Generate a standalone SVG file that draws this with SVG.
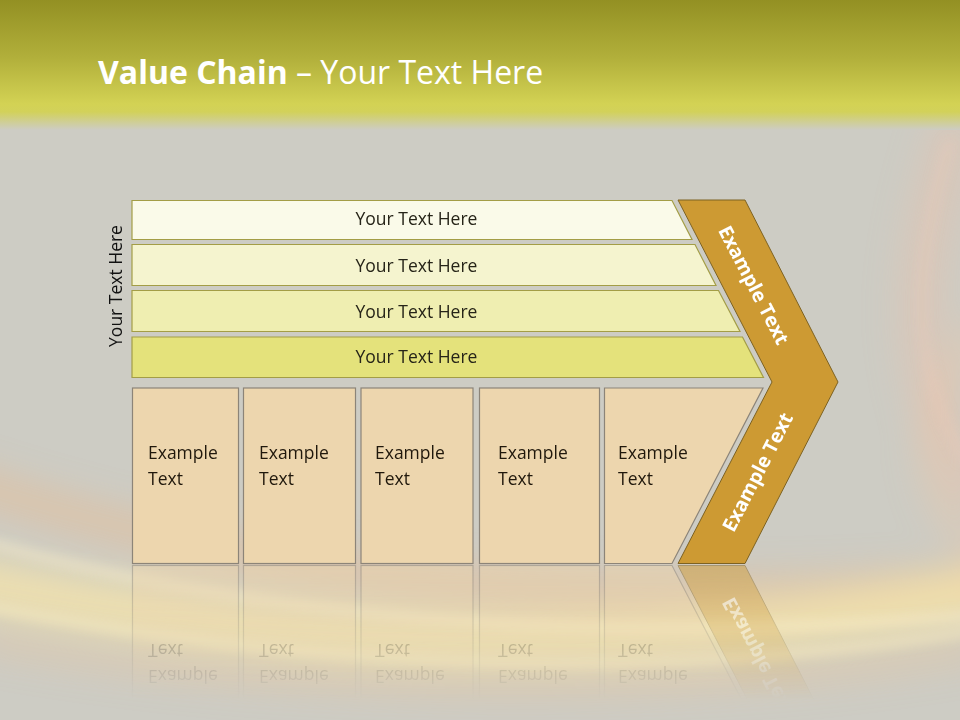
<svg xmlns="http://www.w3.org/2000/svg" xmlns:xlink="http://www.w3.org/1999/xlink" width="960" height="720" viewBox="0 0 960 720">
<defs>
<style>
.bar{stroke:#a39d46;stroke-width:1.2}
.box{fill:#edd6ae;stroke:#8c8478;stroke-width:1.2}
.chev{fill:#cd9a33;stroke:#7d6222;stroke-width:1}
.bt{font-family:"Open Sans","DejaVu Sans",sans-serif;font-size:17.5px;fill:#262418;text-anchor:middle}
.xt{font-family:"Open Sans","Liberation Sans",sans-serif;font-size:17.5px;fill:#20180c}
.ct{font-family:"Open Sans","Liberation Sans",sans-serif;font-size:19.5px;font-weight:bold;fill:#ffffff;text-anchor:middle}
</style>
<linearGradient id="top" x1="0" y1="0" x2="0" y2="1">
<stop offset="0" stop-color="#939023"/>
<stop offset="0.45" stop-color="#b2b03b"/>
<stop offset="0.8" stop-color="#d3d254"/>
<stop offset="0.86" stop-color="#d2d15a"/>
<stop offset="1" stop-color="#cdccc4"/>
</linearGradient>
<linearGradient id="fade" gradientUnits="userSpaceOnUse" x1="0" y1="564" x2="0" y2="700">
<stop offset="0" stop-color="#fff" stop-opacity="0.5"/>
<stop offset="1" stop-color="#fff" stop-opacity="0"/>
</linearGradient>
<mask id="refl" maskUnits="userSpaceOnUse" x="0" y="564" width="960" height="156">
<rect x="0" y="564" width="960" height="156" fill="url(#fade)"/>
</mask>
<filter id="blur" x="-20%" y="-20%" width="140%" height="140%"><feGaussianBlur stdDeviation="16"/></filter>
<filter id="blur2" x="-20%" y="-20%" width="140%" height="140%"><feGaussianBlur stdDeviation="6"/></filter>
</defs>

<g id="background">
<rect width="960" height="720" fill="#cdccc4"/>
<g filter="url(#blur)" fill="none">
<path d="M -40 480 C 200 560, 520 620, 1000 580" stroke="#f0b882" stroke-width="40" opacity="0.35"/>
<path d="M -40 580 C 250 640, 600 670, 1000 590" stroke="#f8e6a8" stroke-width="55" opacity="0.7"/>
<path d="M -20 640 C 300 700, 700 700, 980 650" stroke="#f3c590" stroke-width="22" opacity="0.35"/>
<path d="M 960 120 C 910 260, 900 380, 980 500" stroke="#eec0aa" stroke-width="50" opacity="0.35"/>
<path d="M 990 320 C 920 400, 900 480, 990 570" stroke="#f2c8a2" stroke-width="30" opacity="0.3"/>
</g>
<g filter="url(#blur2)" fill="none">
<path d="M -20 540 C 220 610, 560 650, 980 615" stroke="#fff4d0" stroke-width="8" opacity="0.5"/>
<path d="M -20 605 C 260 660, 620 690, 980 630" stroke="#fff3c4" stroke-width="7" opacity="0.55"/>
<path d="M 950 140 C 915 260, 905 360, 965 460" stroke="#f5cdb8" stroke-width="8" opacity="0.3"/>
</g>
<rect width="960" height="130" fill="url(#top)"/>
</g>

<g id="title">
<text x="98" y="84" font-family="'Open Sans','Liberation Sans',sans-serif" font-size="32" fill="#ffffff"><tspan font-weight="bold">Value Chain</tspan> – Your Text Here</text>
</g>

<g id="side-label">
<text class="bt" transform="translate(122,286) rotate(-90)" x="0" y="0" style="fill:#111">Your Text Here</text>
</g>

<g id="bar1">
<polygon class="bar" fill="#fafae9" points="132,200.5 672,200.5 692,239.5 132,239.5"/>
<text class="bt" x="416.5" y="225">Your Text Here</text>
</g>
<g id="bar2">
<polygon class="bar" fill="#f5f4cf" points="132,244.5 695,244.5 716,285.5 132,285.5"/>
<text class="bt" x="416.5" y="272">Your Text Here</text>
</g>
<g id="bar3">
<polygon class="bar" fill="#efeeb1" points="132,290.5 718.5,290.5 740,331.5 132,331.5"/>
<text class="bt" x="416.5" y="317.5">Your Text Here</text>
</g>
<g id="bar4">
<polygon class="bar" fill="#e4e27b" points="132,337 742.5,337 763.5,377.5 132,377.5"/>
<text class="bt" x="416.5" y="362.5">Your Text Here</text>
</g>

<g id="lower">
<g id="box1">
<rect class="box" x="132.5" y="388" width="106" height="175.5"/>
<text class="xt" x="148" y="459">Example</text><text class="xt" x="148" y="485">Text</text>
</g>
<g id="box2">
<rect class="box" x="243.5" y="388" width="112" height="175.5"/>
<text class="xt" x="259" y="459">Example</text><text class="xt" x="259" y="485">Text</text>
</g>
<g id="box3">
<rect class="box" x="361" y="388" width="112" height="175.5"/>
<text class="xt" x="375" y="459">Example</text><text class="xt" x="375" y="485">Text</text>
</g>
<g id="box4">
<rect class="box" x="479.5" y="388" width="120" height="175.5"/>
<text class="xt" x="498" y="459">Example</text><text class="xt" x="498" y="485">Text</text>
</g>
<g id="box5">
<polygon class="box" points="604.5,388 763,388 672,563.5 604.5,563.5"/>
<text class="xt" x="618" y="459">Example</text><text class="xt" x="618" y="485">Text</text>
</g>
<g id="chevron">
<polygon class="chev" points="678,200 745,200 838,382 745,563.5 678,563.5 772,382"/>
<text class="ct" transform="translate(754,285) rotate(62.7)" x="0" y="7">Example Text</text>
<text class="ct" transform="translate(757.5,472) rotate(-62.7)" x="0" y="7">Example Text</text>
</g>
</g>

<g id="reflection" mask="url(#refl)">
<use xlink:href="#lower" transform="translate(0,1129) scale(1,-1)"/>
</g>

<g id="connectors"></g>
</svg>
